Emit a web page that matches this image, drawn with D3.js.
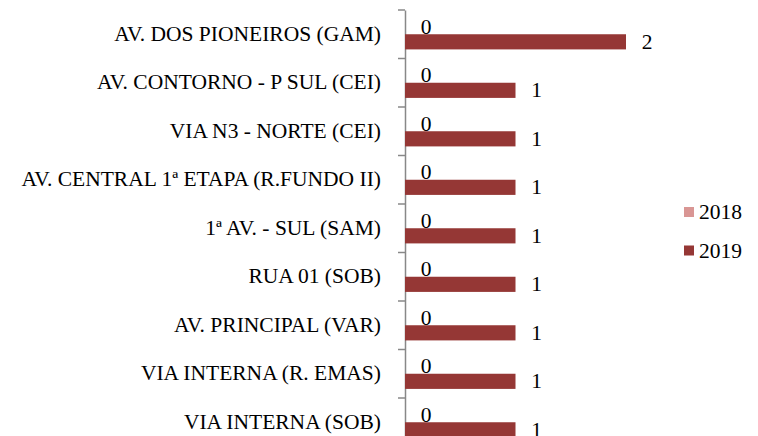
<!DOCTYPE html>
<html><head><meta charset="utf-8">
<script src="https://cdn.jsdelivr.net/npm/d3@7"></script>
<style>body{margin:0;background:#fff}svg{display:block}</style>
</head><body><svg id="c" width="758" height="436"></svg>
<script>
const categories = ["AV. DOS PIONEIROS (GAM)","AV. CONTORNO - P SUL (CEI)","VIA N3 - NORTE (CEI)","AV. CENTRAL 1ª ETAPA (R.FUNDO II)","1ª AV. - SUL (SAM)","RUA 01 (SOB)","AV. PRINCIPAL (VAR)","VIA INTERNA (R. EMAS)","VIA INTERNA (SOB)"];
const seriesNames = ["2018","2019"];
const values2018 = [0,0,0,0,0,0,0,0,0];
const values2019 = [2,1,1,1,1,1,1,1,1];
const colors = ["#D99694","#953735"];

const svg = d3.select("#c");
const FONT = '"Liberation Serif"';
const fs = "21.5px";
const x0 = 405;
const x = d3.scaleLinear().domain([0,2]).range([x0, 626]);
const y = d3.scaleBand().domain(categories).range([10, 10 + 9*48.5]).padding(0);
const ys = d3.scaleBand().domain(seriesNames).range([0, y.bandwidth()]).paddingOuter(0.6).paddingInner(0);
const series = [values2018, values2019];

const ax = svg.append("g").attr("transform",`translate(${x0},0)`)
  .call(d3.axisLeft(y).tickSize(0).tickPadding(24));
ax.attr("font-family",null).attr("font-size",null);
ax.select(".domain").attr("stroke","#888").attr("stroke-width",1.5);
ax.selectAll("text").style("font-family",FONT).style("font-size",fs).attr("fill","#000").attr("dy","0.3em");
const bounds = categories.map(c=>y(c)).concat([y.range()[1]]);
svg.append("g").selectAll("line").data(bounds).join("line")
  .attr("x1",x0-7).attr("x2",x0).attr("y1",d=>d).attr("y2",d=>d)
  .attr("stroke","#888").attr("stroke-width",1.5);

seriesNames.forEach((s,si)=>{
  const g = svg.append("g");
  g.selectAll("rect").data(categories).join("rect")
    .attr("x",x0).attr("y",c=>y(c)+ys(s))
    .attr("width",(c,i)=>x(series[si][i])-x0)
    .attr("height",ys.bandwidth())
    .attr("fill",colors[si]);
  g.selectAll("text").data(categories).join("text")
    .attr("x",(c,i)=>x(series[si][i])+21)
    .attr("y",(c,i)=>y(c)+ys(s)+ys.bandwidth()/2)
    .attr("dy","0.33em").attr("text-anchor","middle")
    .style("font-family",FONT).style("font-size",fs).attr("fill","#000")
    .text((c,i)=>series[si][i]);
});

const lg = svg.append("g");
seriesNames.forEach((s,i)=>{
  const cy = 212 + i*38.5;
  lg.append("rect").attr("x",684).attr("y",cy-5).attr("width",10).attr("height",10).attr("fill",colors[i]);
  lg.append("text").attr("x",699).attr("y",cy).attr("dy","0.33em")
    .style("font-family",FONT).style("font-size",fs).text(s);
});
</script></body></html>
